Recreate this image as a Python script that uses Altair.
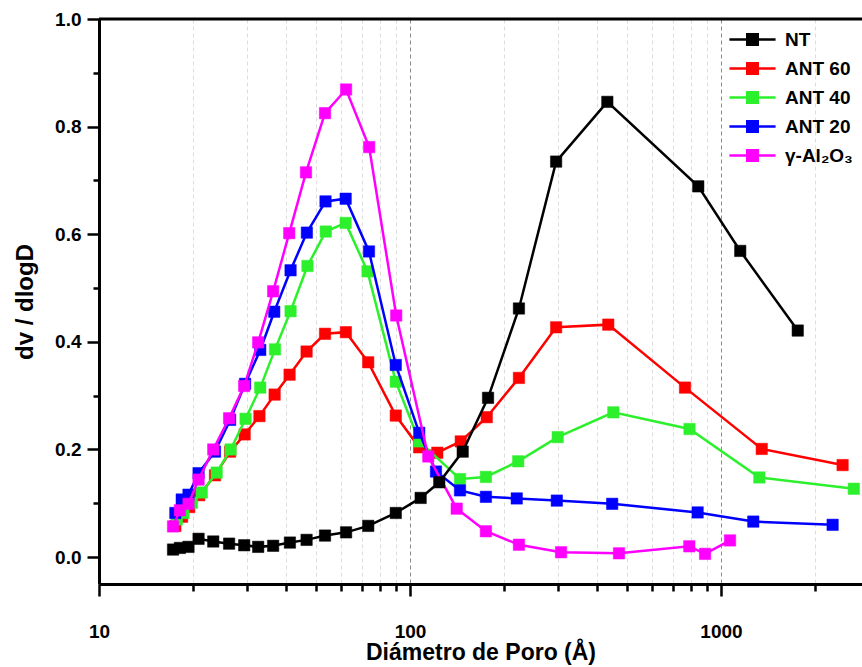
import altair as alt
import pandas as pd

series_names = ["NT", "ANT 60", "ANT 40", "ANT 20", "γ-Al₂O₃"]
series_colors = ["#000000", "#ff0000", "#2cf02c", "#0000ff", "#ff00ff"]

nt_x = [17.3, 18.2, 19.4, 20.9, 23.3, 26.2, 29.3, 32.5, 36.3, 41.1, 46.5, 53.3, 62.3,
        73.4, 90.0, 108.2, 124.2, 147.7, 178.2, 224, 295, 431, 845, 1153, 1765]
nt_y = [0.014, 0.017, 0.019, 0.034, 0.029, 0.025, 0.022, 0.019, 0.021, 0.027, 0.032,
        0.040, 0.046, 0.058, 0.082, 0.110, 0.139, 0.196, 0.296, 0.462, 0.735, 0.846,
        0.689, 0.569, 0.421]

a60_x = [17.6, 18.5, 19.5, 21.0, 23.6, 26.4, 29.4, 32.8, 36.7, 41.0, 46.5, 53.3, 62.2,
         73.4, 90.0, 107.0, 122.4, 145.6, 176.5, 224, 295, 434, 766, 1352, 2460]
a60_y = [0.058, 0.075, 0.093, 0.115, 0.152, 0.196, 0.228, 0.262, 0.302, 0.339, 0.382,
         0.415, 0.418, 0.362, 0.263, 0.204, 0.194, 0.215, 0.260, 0.333, 0.427, 0.432,
         0.315, 0.201, 0.171]

a40_x = [17.8, 18.7, 19.9, 21.4, 23.9, 26.5, 29.6, 33.0, 36.8, 41.3, 46.8, 53.6, 62.1,
         73.0, 90.0, 107.1, 144.8, 175.4, 222.8, 298.5, 450.6, 792, 1328, 2673]
a40_y = [0.070, 0.082, 0.101, 0.120, 0.157, 0.200, 0.257, 0.315, 0.386, 0.457, 0.541,
         0.605, 0.621, 0.531, 0.326, 0.215, 0.145, 0.149, 0.178, 0.223, 0.269, 0.238,
         0.148, 0.127]

a20_x = [17.6, 18.45, 19.4, 20.9, 23.6, 26.4, 29.5, 33.0, 36.6, 41.3, 46.6, 53.5, 62.1,
         73.8, 90.0, 107.1, 121.2, 144.8, 175.4, 220.4, 296.5, 446.8, 841, 1270, 2285]
a20_y = [0.082, 0.107, 0.116, 0.156, 0.196, 0.255, 0.322, 0.385, 0.456, 0.533, 0.603,
         0.661, 0.666, 0.568, 0.357, 0.231, 0.159, 0.124, 0.112, 0.109, 0.105, 0.099,
         0.083, 0.066, 0.060]

al_x = [17.3, 18.2, 19.4, 20.9, 23.3, 26.2, 29.3, 32.5, 36.3, 40.9, 46.3, 53.3, 62.3,
        73.9, 90.3, 114.5, 141.3, 175.4, 224, 305.9, 469.9, 790.8, 888.6, 1069]
al_y = [0.057, 0.087, 0.099, 0.144, 0.200, 0.258, 0.318, 0.399, 0.494, 0.602, 0.715,
        0.825, 0.869, 0.762, 0.449, 0.187, 0.090, 0.048, 0.023, 0.009, 0.007, 0.020,
        0.006, 0.031]

x_major = [10, 100, 1000]
x_minor = [20, 30, 40, 50, 60, 70, 80, 90, 200, 300, 400, 500, 600, 700, 800, 900, 2000]
y_major = [0.0, 0.2, 0.4, 0.6, 0.8, 1.0]
y_minor = [0.1, 0.3, 0.5, 0.7, 0.9]

FONT = "Liberation Sans"

data_by_series = {
    "NT": (nt_x, nt_y),
    "ANT 60": (a60_x, a60_y),
    "ANT 40": (a40_x, a40_y),
    "ANT 20": (a20_x, a20_y),
    "γ-Al₂O₃": (al_x, al_y),
}

cscale = alt.Scale(domain=series_names, range=series_colors)
leg = alt.Legend(
    title=None, orient="none", legendX=644, legendY=11,
    symbolType="M-4.4,0H4.4M-1,-1H1V1H-1Z", symbolSize=110, symbolStrokeWidth=2.5,
    labelFont=FONT, labelFontSize=19, labelFontWeight="bold", labelColor="black",
    labelOffset=23, rowPadding=8, padding=0, symbolOffset=0, labelLimit=0,
)

TICKC = "#000000"
xaxis_major = alt.Axis(
    values=x_major, title="Diámetro de Poro (Å)", format="d", orient="bottom",
    grid=True, gridColor="#8a8a8a", gridDash=[4, 3], gridWidth=1,
    ticks=True, tickSize=12, tickWidth=2.5, tickColor=TICKC, tickOpacity=1,
    domainColor="black", domainWidth=3,
    labelFont=FONT, labelFontSize=19, labelFontWeight="bold", labelColor="black",
    labelPadding=26, labelFlush=False,
    titleFont=FONT, titleFontSize=23, titleFontWeight="bold", titleColor="black",
    titlePadding=0,
)
xaxis_minor = alt.Axis(
    values=x_minor, title="", orient="bottom", labels=False, domain=False,
    grid=True, gridColor="#dddddd", gridDash=[4, 3], gridWidth=1,
    ticks=True, tickSize=7, tickWidth=2.5, tickColor=TICKC, tickOpacity=1,
)
yaxis_major = alt.Axis(
    values=y_major, title="dv / dlogD", format=".1f", orient="left",
    grid=False, ticks=True, tickSize=12, tickWidth=2.5, tickColor=TICKC, tickOpacity=1,
    domainColor="black", domainWidth=3,
    labelFont=FONT, labelFontSize=19, labelFontWeight="bold", labelColor="black",
    labelPadding=6,
    titleFont=FONT, titleFontSize=24, titleFontWeight="bold", titleColor="black",
    titlePadding=17,
)
yaxis_minor = alt.Axis(
    values=y_minor, title="", orient="left", labels=False, domain=False,
    grid=False, ticks=True, tickSize=6, tickWidth=2.5, tickColor=TICKC, tickOpacity=1,
)

xs = alt.Scale(type="log", domain=[10, 2840], nice=False)
ys = alt.Scale(domain=[-0.05, 1.0], nice=False, zero=False)

all_rows = []
for name in series_names:
    xv, yv = data_by_series[name]
    for a, b in zip(xv, yv):
        all_rows.append({"d": a, "v": b, "s": name})
all_df = pd.DataFrame(all_rows)

axis_major_layer = alt.Chart(all_df).mark_point(opacity=0).encode(
    x=alt.X("d:Q", scale=xs, axis=xaxis_major),
    y=alt.Y("v:Q", scale=ys, axis=yaxis_major),
)
axis_minor_layer = alt.Chart(all_df).mark_point(opacity=0).encode(
    x=alt.X("d:Q", scale=xs, axis=xaxis_minor),
    y=alt.Y("v:Q", scale=ys, axis=yaxis_minor),
)

layers = [axis_minor_layer, axis_major_layer]
draw_order = ["ANT 60", "ANT 40", "ANT 20", "γ-Al₂O₃", "NT"]
for name in draw_order:
    xv, yv = data_by_series[name]
    df = pd.DataFrame({"d": xv, "v": yv, "s": [name] * len(xv)})
    base = alt.Chart(df)
    line = base.mark_line(strokeWidth=2.5).encode(
        x=alt.X("d:Q", scale=xs, axis=None),
        y=alt.Y("v:Q", scale=ys, axis=None),
        stroke=alt.Stroke("s:N", scale=cscale, legend=leg),
    )
    pts = base.mark_point(shape="square", size=130, filled=True, opacity=1, strokeWidth=0.5).encode(
        x=alt.X("d:Q", scale=xs, axis=None),
        y=alt.Y("v:Q", scale=ys, axis=None),
        fill=alt.Fill("s:N", scale=cscale, legend=leg),
        stroke=alt.Stroke("s:N", scale=cscale, legend=leg),
    )
    layers += [line, pts]

top = alt.Chart(alt.InlineData(values=[{"a": 1}])).mark_rule(color="black", strokeWidth=3).encode(
    y=alt.datum(1.0, scale=ys, axis=None)
)
layers.append(top)

chart = alt.layer(*layers).resolve_axis(x="independent", y="independent").properties(
    width=763, height=565, autosize="none",
    padding={"left": 99, "top": 19, "right": 0, "bottom": 83},
    background="white",
).configure_view(stroke=None)

chart.save("out.html", embed_options={"renderer": "svg", "actions": False})
